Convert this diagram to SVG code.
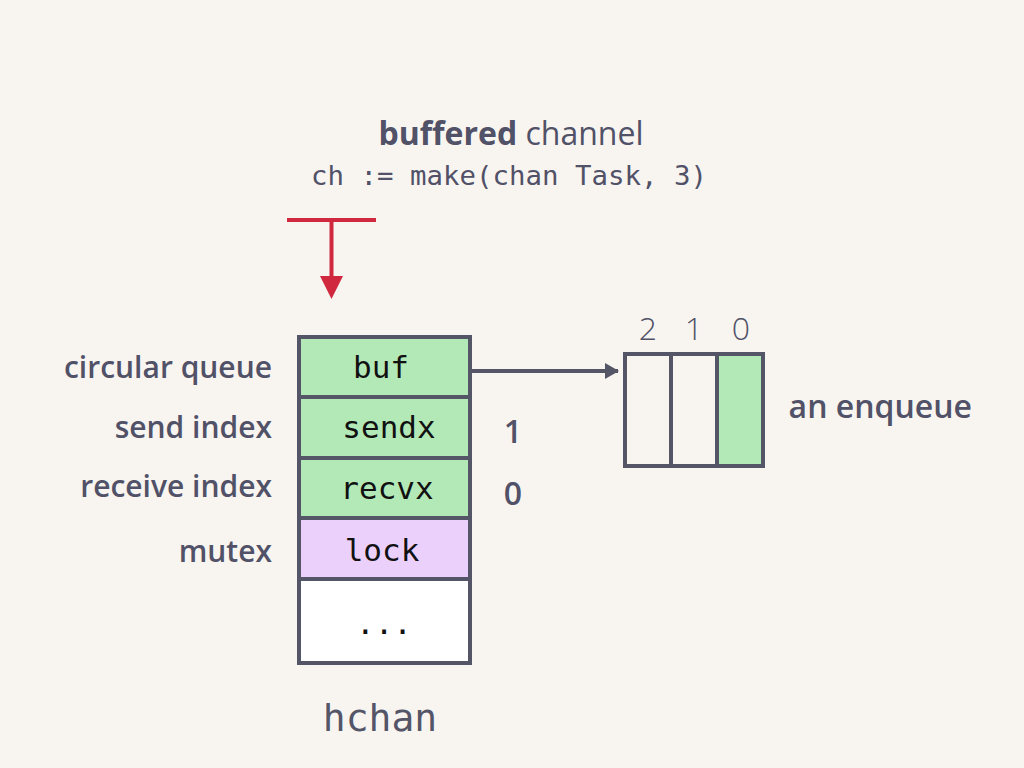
<svg xmlns="http://www.w3.org/2000/svg" width="1024" height="768" viewBox="0 0 1024 768">
<defs>
<style>
.lbl{font-family:"Open Sans","Noto Sans",sans-serif;font-weight:600;font-size:30px;fill:#515167;text-anchor:end}
.mono{font-family:"DejaVu Sans Mono","Liberation Mono",monospace;font-size:31px;fill:#111;text-anchor:middle}
.cell{stroke:#555568;stroke-width:4}
.num{font-family:"Open Sans","Noto Sans",sans-serif;font-weight:300;font-size:32px;fill:#515167;text-anchor:middle}
</style>
<marker id="ah" markerWidth="14" markerHeight="16" refX="13" refY="8" orient="auto" markerUnits="userSpaceOnUse">
<path d="M0,0 L14,8 L0,16 Z" fill="#555568"/>
</marker>
</defs>
<rect width="1024" height="768" fill="#f8f5f1"/>
<g id="title">
<text x="511" y="145" text-anchor="middle" font-family="'Open Sans','Noto Sans',sans-serif" font-size="32" fill="#515167"><tspan font-weight="700">buffered</tspan> channel</text>
<text x="509" y="185" text-anchor="middle" font-family="'DejaVu Sans Mono',monospace" font-size="27.4" fill="#515167">ch := make(chan Task, 3)</text>
</g>
<g id="insert-arrow">
<line x1="287" y1="220" x2="376" y2="220" stroke="#d0283f" stroke-width="4"/>
<line x1="331.5" y1="220" x2="331.5" y2="278" stroke="#d0283f" stroke-width="4"/>
<path d="M320,276 L343,276 L331.5,299 Z" fill="#d0283f"/>
</g>
<g id="hchan">
<rect class="cell" x="299" y="337" width="171" height="60" fill="#b3e9b7"/>
<rect class="cell" x="299" y="397" width="171" height="61" fill="#b3e9b7"/>
<rect class="cell" x="299" y="458" width="171" height="60" fill="#b3e9b7"/>
<rect class="cell" x="299" y="518" width="171" height="61" fill="#ecd0fc"/>
<rect class="cell" x="299" y="579" width="171" height="84" fill="#ffffff"/>
<text class="mono" x="381" y="378">buf</text>
<text class="mono" x="389" y="438">sendx</text>
<text class="mono" x="387" y="499">recvx</text>
<text class="mono" x="382" y="561">lock</text>
<text class="mono" x="384" y="634">...</text>
<text x="380" y="731" text-anchor="middle" font-family="'DejaVu Sans Mono',monospace" font-size="38" fill="#555568">hchan</text>
</g>
<g id="labels">
<text class="lbl" x="272" y="378">circular queue</text>
<text class="lbl" x="272" y="438">send index</text>
<text class="lbl" x="272" y="497">receive index</text>
<text class="lbl" x="272" y="562">mutex</text>
<text class="lbl" x="513" y="443" style="text-anchor:middle;font-size:32px">1</text>
<text class="lbl" x="513" y="505" style="text-anchor:middle;font-size:32px">0</text>
</g>
<g id="queue">
<rect class="cell" x="625" y="354" width="46" height="112" fill="none"/>
<rect class="cell" x="671" y="354" width="46" height="112" fill="none"/>
<rect class="cell" x="717" y="354" width="46" height="112" fill="#b3e9b7"/>
<text class="num" x="648" y="340">2</text>
<text class="num" x="694" y="340">1</text>
<text class="num" x="741" y="340">0</text>
<text class="lbl" x="972" y="418" style="font-size:32px">an enqueue</text>
</g>
<g id="connectors">
<line x1="472" y1="371" x2="618" y2="371" stroke="#555568" stroke-width="4" marker-end="url(#ah)"/>
</g>
</svg>
